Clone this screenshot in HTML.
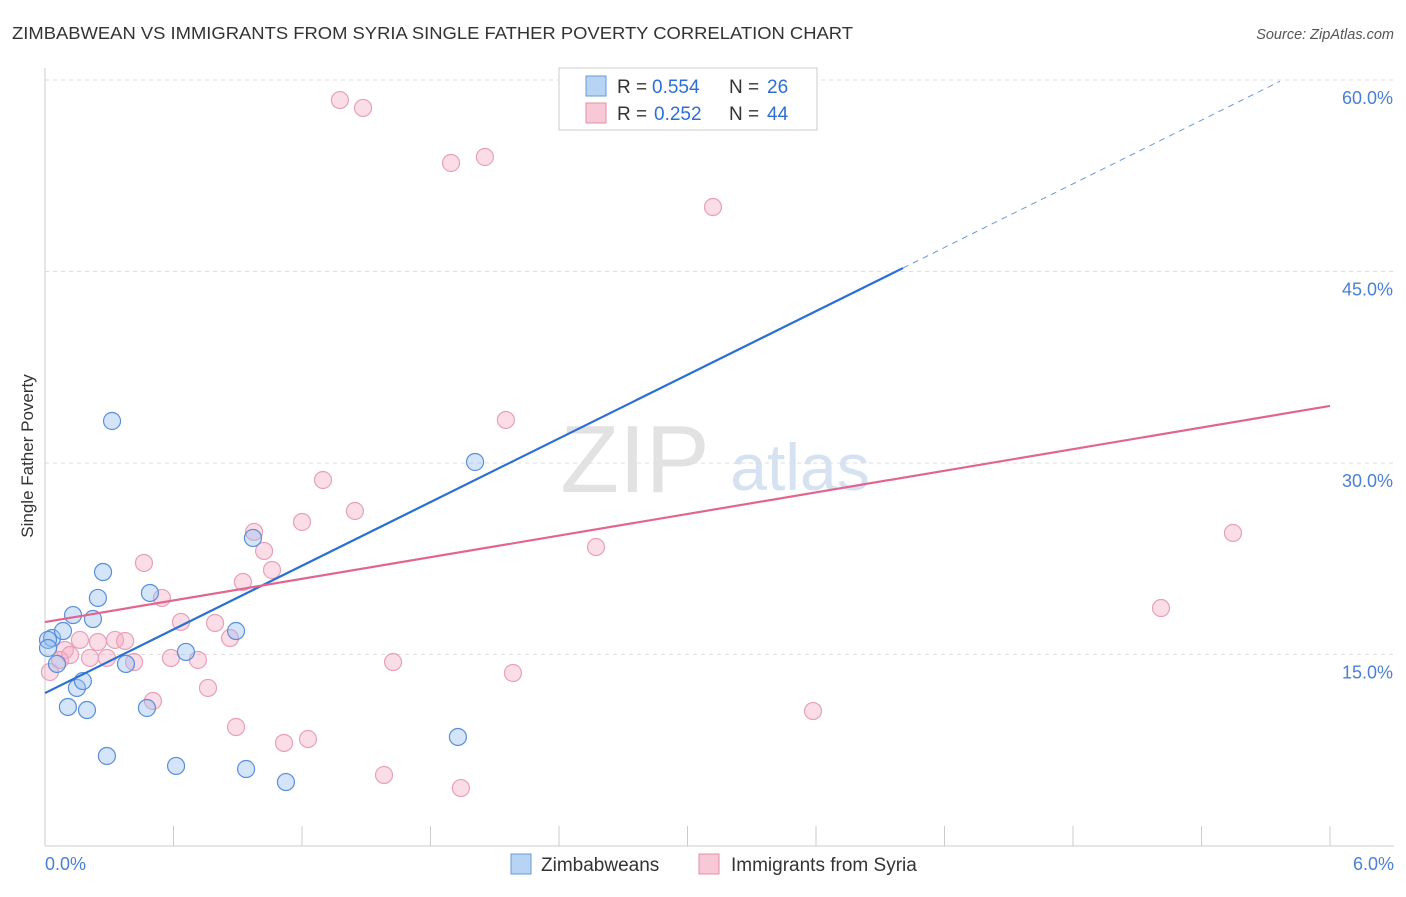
<!DOCTYPE html>
<html><head><meta charset="utf-8"><style>
body{margin:0;background:#fff;font-family:"Liberation Sans",sans-serif}
svg text{font-family:"Liberation Sans",sans-serif}
</style></head><body>
<svg id="c" width="1406" height="892">
<text x="12" y="39" font-size="17.5" fill="#333" textLength="841" lengthAdjust="spacingAndGlyphs">ZIMBABWEAN VS IMMIGRANTS FROM SYRIA SINGLE FATHER POVERTY CORRELATION CHART</text>
<text x="1394" y="39" font-size="14.5" fill="#555" text-anchor="end" font-style="italic">Source: ZipAtlas.com</text>
<text x="33" y="456" font-size="17" fill="#333" text-anchor="middle" transform="rotate(-90 33 456)">Single Father Poverty</text>
<text x="635" y="492" font-size="96" fill="#e2e2e2" font-family="Liberation Serif" text-anchor="middle">ZIP</text>
<text x="800" y="490" font-size="66" fill="#d6e2f2" text-anchor="middle">atlas</text>
<g id="grid"></g><g id="pts"></g><g id="lines"></g>
<g>
<rect x="559" y="68" width="258" height="62" fill="#fff" stroke="#ccc"/>
<rect x="586" y="76" width="20" height="20" fill="#b8d4f4" stroke="#6a9ad8"/>
<text x="617" y="93" font-size="19" fill="#333">R =</text><text x="652" y="93" font-size="19" fill="#2d6fd6">0.554</text>
<text x="729" y="93" font-size="19" fill="#333">N =</text><text x="767" y="93" font-size="19" fill="#2d6fd6">26</text>
<rect x="586" y="103" width="20" height="20" fill="#f8c8d6" stroke="#e090aa"/>
<text x="617" y="120" font-size="19" fill="#333">R =</text><text x="654" y="120" font-size="19" fill="#2d6fd6">0.252</text>
<text x="729" y="120" font-size="19" fill="#333">N =</text><text x="767" y="120" font-size="19" fill="#2d6fd6">44</text>
</g>
<g>
<rect x="511" y="854" width="20" height="20" fill="#b8d4f4" stroke="#6a9ad8"/>
<text x="541" y="871" font-size="19" fill="#333">Zimbabweans</text>
<rect x="699" y="854" width="20" height="20" fill="#f8c8d6" stroke="#e090aa"/>
<text x="731" y="871" font-size="19" fill="#333">Immigrants from Syria</text>
</g>
</svg>
<script>
const yTicks=[15,30,45,60];
const yTickLabels=["15.0%","30.0%","45.0%","60.0%"];
const xTickLabels=["0.0%","6.0%"];
const blueX=[0.033,0.014,0.056,0.084,0.131,0.224,0.247,0.271,0.313,0.149,0.177,0.107,0.196,0.378,0.490,0.476,0.289,0.612,0.658,0.892,0.971,0.939,1.125,2.008,1.928,0.014];
const blueY=[16.29,16.14,14.26,16.84,18.09,17.78,19.43,21.46,33.29,12.38,12.92,10.89,10.65,14.26,19.82,10.81,7.05,6.27,15.20,16.84,24.13,6.03,5.01,30.08,8.54,15.51];
const pinkX=[1.377,1.485,1.896,2.054,3.119,2.152,1.298,1.447,1.200,0.976,1.023,2.573,5.547,0.462,1.060,0.924,0.546,0.635,0.794,0.864,0.327,0.374,0.247,0.163,0.093,0.210,0.070,0.289,0.416,0.588,0.714,1.625,2.185,0.761,0.504,0.892,1.116,1.228,3.586,5.211,1.583,1.942,0.023,0.117];
const pinkY=[58.43,57.81,53.50,53.97,50.05,33.37,28.67,26.24,25.38,24.60,23.11,23.42,24.52,22.17,21.62,20.68,19.43,17.55,17.47,16.29,16.14,16.06,15.98,16.14,15.35,14.73,14.57,14.73,14.41,14.73,14.57,14.41,13.55,12.38,11.36,9.32,8.07,8.38,10.57,18.64,5.56,4.54,13.63,14.96];
const blueLine=[11.98,8.31];
const pinkLine=[17.54,2.822];
const X=v=>45+v/6*1285, Y=v=>846-v/15*191.5;
const NS="http://www.w3.org/2000/svg";
function mk(t,a,p){const e=document.createElementNS(NS,t);for(const k in a)e.setAttribute(k,a[k]);p.appendChild(e);return e;}
const g=document.getElementById('grid');
const ax=mk('line',{x1:45,y1:68,x2:45,y2:846,stroke:'#ccc'},g);

const bx=mk('line',{x1:45,y1:846,x2:1394,y2:846,stroke:'#ccc'},g);

yTicks.forEach((t,i)=>{
 const l=mk('line',{x1:45,y1:Y(t),x2:1394,y2:Y(t),stroke:'#ddd','stroke-dasharray':'4,4'},g);
 
 const tx=mk('text',{x:1393,y:Y(t)+24,'font-size':18,fill:'#4a7fd6','text-anchor':'end'},g);tx.textContent=yTickLabels[i];
 
});
for(let i=0;i<=10;i++){const x=45+i*128.5;const l=mk('line',{x1:x,y1:826,x2:x,y2:846,stroke:'#ccc'},g);
 }
[[0,45,'start'],[6,1394,'end']].forEach((d,i)=>{const t=mk('text',{x:d[1],y:870,'font-size':18,fill:'#4a7fd6','text-anchor':d[2]},g);t.textContent=xTickLabels[i];
 });
const p=document.getElementById('pts');
pinkX.forEach((x,i)=>{const c=mk('circle',{cx:X(x),cy:Y(pinkY[i]),r:8.5,fill:'rgba(244,170,195,0.4)',stroke:'#e8a0b8','stroke-width':1.2},p);
 });
blueX.forEach((x,i)=>{const c=mk('circle',{cx:X(x),cy:Y(blueY[i]),r:8.5,fill:'rgba(150,190,240,0.4)',stroke:'#5a8ed8','stroke-width':1.2},p);
 });
const L=document.getElementById('lines');
const b1=mk('line',{x1:X(0),y1:Y(blueLine[0]),x2:X(4.006),y2:Y(blueLine[0]+blueLine[1]*4.006),stroke:'#2a6fd6','stroke-width':2.2},L);

const b2=mk('line',{x1:X(4.006),y1:Y(blueLine[0]+blueLine[1]*4.006),x2:X(5.766),y2:Y(blueLine[0]+blueLine[1]*5.766),stroke:'#6a9ad8','stroke-width':1,'stroke-dasharray':'6,5'},L);

const p1=mk('line',{x1:X(0),y1:Y(pinkLine[0]),x2:X(6),y2:Y(pinkLine[0]+pinkLine[1]*6),stroke:'#e06690','stroke-width':2.2},L);

</script>
</body></html>
